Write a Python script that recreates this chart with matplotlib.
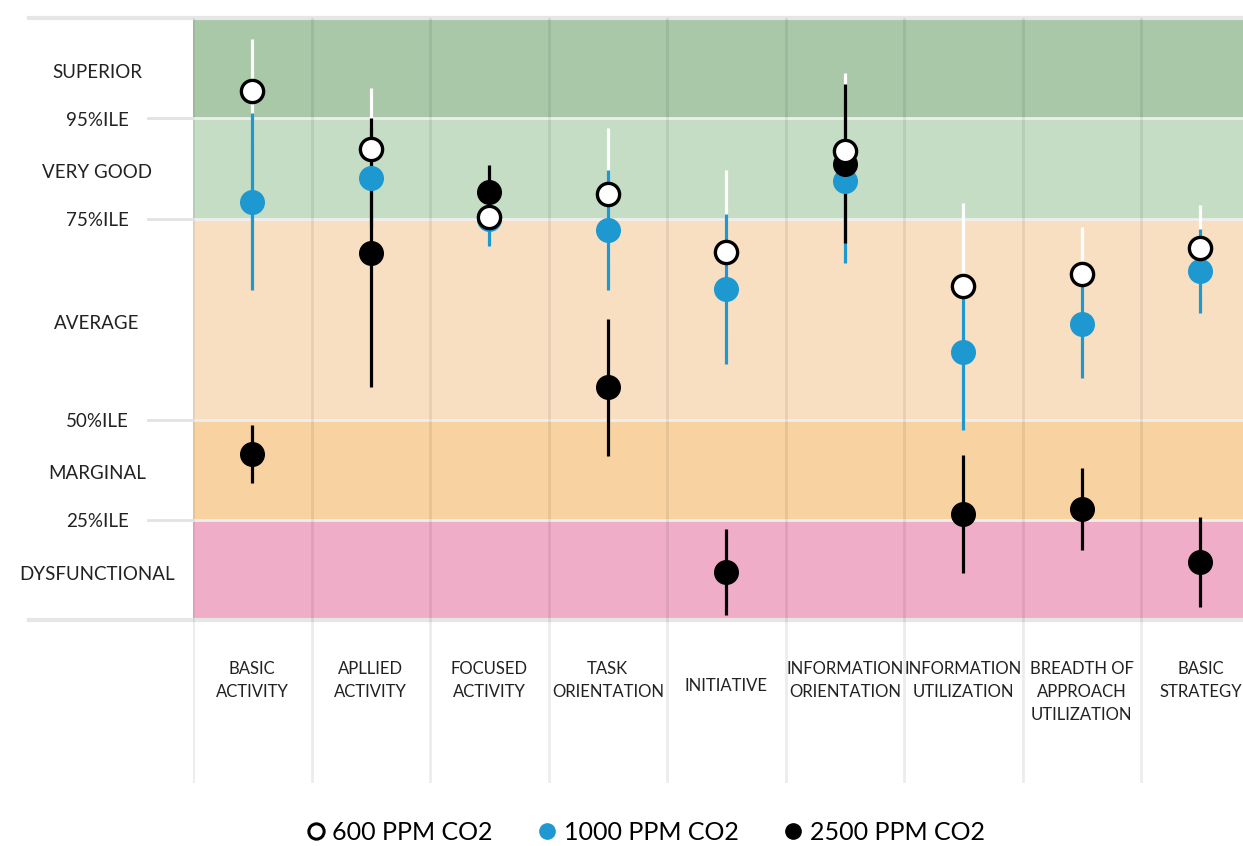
import matplotlib

matplotlib.use("Agg")
import matplotlib.pyplot as plt
from matplotlib.lines import Line2D

plt.rcParams["font.family"] = ["Lato", "DejaVu Sans"]

# competency categories (x axis)
categories = [
    "BASIC\nACTIVITY",
    "APLLIED\nACTIVITY",
    "FOCUSED\nACTIVITY",
    "TASK\nORIENTATION",
    "INITIATIVE",
    "INFORMATION\nORIENTATION",
    "INFORMATION\nUTILIZATION",
    "BREADTH OF\nAPPROACH\nUTILIZATION",
    "BASIC\nSTRATEGY",
]

# score scale: 0-1 dysfunctional, 1-2 marginal, 2-4 average, 4-5 very good, 5-6 superior
band_edges = [0, 1, 2, 4, 5, 6]
band_names = ["DYSFUNCTIONAL", "MARGINAL", "AVERAGE", "VERY GOOD", "SUPERIOR"]
band_colors = ["#f0adc8", "#f8d3a1", "#f9dfc1", "#c5ddc4", "#a8c8a8"]
pct_levels = [1, 2, 4, 5]
pct_labels = ["25%ILE", "50%ILE", "75%ILE", "95%ILE"]

# mean score and error half-width per CO2 condition
ppm600 = [5.27, 4.70, 4.02, 4.25, 3.67, 4.68, 3.33, 3.45, 3.71]
ppm600_err = [0.52, 0.60, 0.15, 0.65, 0.82, 0.77, 0.83, 0.47, 0.43]
ppm1000 = [4.17, 4.41, 4.00, 3.89, 3.30, 4.38, 2.67, 2.95, 3.48]
ppm1000_err = [0.88, 0.50, 0.27, 0.60, 0.75, 0.82, 0.77, 0.54, 0.42]
ppm2500 = [1.66, 3.66, 4.27, 2.32, 0.48, 4.55, 1.06, 1.11, 0.58]
ppm2500_err = [0.29, 1.34, 0.27, 0.68, 0.43, 0.79, 0.59, 0.41, 0.45]

BLUE = "#1e98d0"
TEXT = "#222222"
x = list(range(len(categories)))

fig = plt.figure(figsize=(12.43, 8.46), dpi=100)
ax = fig.add_axes([0.1553, 0.0745, 0.8447, 0.9042])
ax.set_xlim(-0.5, 8.36)
ax.set_ylim(-1.62, 6)
ax.axis("off")

# performance bands
for lo, hi, col in zip(band_edges[:-1], band_edges[1:], band_colors):
    ax.axhspan(lo, hi, color=col, zorder=0, lw=0)
for lvl in pct_levels:
    ax.axhline(lvl, color="#eeeeee", lw=2, zorder=1)
    ax.plot([-0.88, -0.5], [lvl, lvl], color="#e2e2e2", lw=2, clip_on=False)
for lvl in (0, 6):
    ax.plot([-1.88, 8.36], [lvl, lvl], color="#e6e6e6", lw=3, clip_on=False, zorder=1)

# column separators
for k in range(len(categories)):
    ax.axvline(k - 0.5, color="black", alpha=0.075, lw=2, zorder=1.5)

# band and percentile labels on the left
for lo, hi, name in zip(band_edges[:-1], band_edges[1:], band_names):
    ax.text(-1.31, (lo + hi) / 2 - 0.04, name, ha="center", va="center",
            fontsize=13.5, color=TEXT, clip_on=False)
for lvl, lab in zip(pct_levels, pct_labels):
    ax.text(-1.31, lvl - 0.02, lab, ha="center", va="center",
            fontsize=13.5, color=TEXT, clip_on=False)

# category labels under the bands
for xi, lab in zip(x, categories):
    if "\n" in lab:
        ax.text(xi, -0.4, lab, ha="center", va="top", fontsize=12,
                color=TEXT, linespacing=1.55)
    else:
        ax.text(xi, -0.65, lab, ha="center", va="center", fontsize=12,
                color=TEXT)

# error bars: white under blue under black
ax.errorbar(x, ppm600, yerr=ppm600_err, fmt="none", ecolor="white", elinewidth=2.3, zorder=2)
ax.errorbar(x, ppm1000, yerr=ppm1000_err, fmt="none", ecolor=BLUE, elinewidth=2.3, zorder=3)
ax.errorbar(x, ppm2500, yerr=ppm2500_err, fmt="none", ecolor="black", elinewidth=2.3, zorder=4)

# markers: blue, then black, then hollow white on top
ax.plot(x, ppm1000, "o", ms=17, color=BLUE, mec=BLUE, zorder=5)
ax.plot(x, ppm2500, "o", ms=17, color="black", zorder=6)
ax.plot(x, ppm600, "o", ms=16, mfc="white", mec="black", mew=2.4, zorder=7)

handles = [
    Line2D([], [], ls="none", marker="o", ms=11, mfc="white", mec="black", mew=2.2),
    Line2D([], [], ls="none", marker="o", ms=11, color=BLUE),
    Line2D([], [], ls="none", marker="o", ms=11, color="black"),
]
fig.legend(handles, ["600 PPM CO2", "1000 PPM CO2", "2500 PPM CO2"],
           loc="center", bbox_to_anchor=(0.518, 0.016), ncol=3, frameon=False,
           fontsize=18, handletextpad=0.15, columnspacing=1.7, handlelength=1.0)

fig.savefig("out.png", dpi=100)
